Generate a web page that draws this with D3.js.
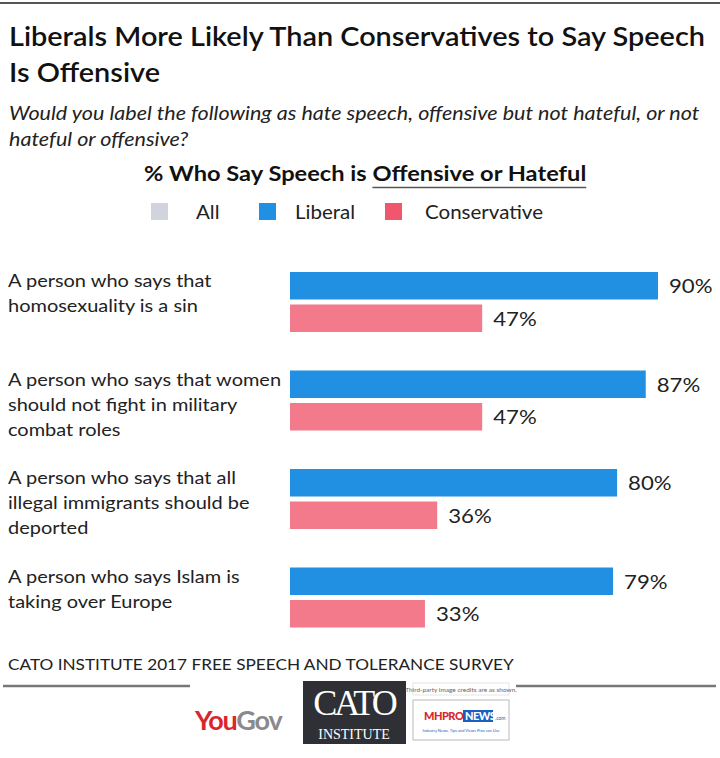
<!DOCTYPE html>
<html><head><meta charset="utf-8">
<script src="https://cdn.jsdelivr.net/npm/d3@7"></script>
<style>body{margin:0;background:#fff;} svg{display:block;font-family:Lato,"Open Sans",sans-serif;}</style>
</head><body>
<script>
const categories = [
  ["A person who says that", "homosexuality is a sin"],
  ["A person who says that women", "should not fight in military", "combat roles"],
  ["A person who says that all", "illegal immigrants should be", "deported"],
  ["A person who says Islam is", "taking over Europe"]
];
const liberal = [90, 87, 80, 79];
const conservative = [47, 47, 36, 33];
const legendItems = ["All", "Liberal", "Conservative"];

const W = 720, H = 758;
const SX = 1.11;
const svg = d3.select("body").append("svg").attr("width", W).attr("height", H);

function txt(parent, x, y, s, size, opts={}) {
  const t = parent.append("text").attr("transform", `translate(${x},${y}) scale(${opts.sx||SX},1)`)
    .attr("font-size", size).attr("fill", opts.fill||"#1a1a1a");
  if (opts.weight) t.attr("font-weight", opts.weight);
  if (opts.italic) t.attr("font-style", "italic");
  if (s !== null) t.text(s);
  return t;
}

svg.append("line").attr("x1",0).attr("x2",W).attr("y1",3).attr("y2",3).attr("stroke","#555").attr("stroke-width",2);

txt(svg, 9, 46, "Liberals More Likely Than Conservatives to Say Speech", 26, {weight:600, fill:"#111"});
txt(svg, 9, 82, "Is Offensive", 26, {weight:600, fill:"#111"});
txt(svg, 9, 120, "Would you label the following as hate speech, offensive but not hateful, or not", 19.4, {italic:true, fill:"#222"});
txt(svg, 9, 146, "hateful or offensive?", 19.4, {italic:true, fill:"#222"});

const sub = txt(svg, 144, 181, null, 21.3, {weight:700, fill:"#111"});
const ts1 = sub.append("tspan").text("% Who Say Speech is ");
const ts2 = sub.append("tspan").text("Offensive or Hateful");
const l1 = ts1.node().getComputedTextLength(), l2 = ts2.node().getComputedTextLength();
svg.append("line").attr("x1",144+l1*SX).attr("x2",144+(l1+l2)*SX).attr("y1",187.5).attr("y2",187.5).attr("stroke","#555").attr("stroke-width",1.5);

const colors = {All:"#d0d4dc", Liberal:"#2190e3", Conservative:"#f27a8a"};
const legendX = [151, 259, 385];
const legendTextOff = [45, 36, 40];
const leg = svg.append("g");
legendItems.forEach((k,i)=>{
  leg.append("rect").attr("x",legendX[i]).attr("y",203).attr("width",17).attr("height",17).attr("fill", k==="Conservative" ? "#f0566e" : colors[k]);
  txt(leg, legendX[i]+legendTextOff[i], 219, k, 18.5, {fill:"#222"});
});

const x = d3.scaleLinear().domain([0,90]).range([290,658]);
const y = d3.scaleBand().domain(d3.range(categories.length)).range([272,666]).paddingInner(0).paddingOuter(0);
const barH = 27.5, gap = 5;

const g = svg.append("g");
categories.forEach((lines,i)=>{
  const by = y(i);
  g.append("rect").attr("x",x(0)).attr("y",by).attr("width",x(liberal[i])-x(0)).attr("height",barH).attr("fill",colors.Liberal);
  g.append("rect").attr("x",x(0)).attr("y",by+barH+gap).attr("width",x(conservative[i])-x(0)).attr("height",barH).attr("fill",colors.Conservative);
  txt(g, x(liberal[i])+11, by+barH/2+7.5, liberal[i]+"%", 20, {fill:"#222"});
  txt(g, x(conservative[i])+11, by+barH+gap+barH/2+7.5, conservative[i]+"%", 20, {fill:"#222"});
  lines.forEach((t,j)=>{
    txt(g, 8, by+15+j*25, t, 18, {fill:"#222"});
  });
});

txt(svg, 8, 670, "CATO INSTITUTE 2017 FREE SPEECH AND TOLERANCE SURVEY", 15.5, {fill:"#222"});
svg.append("line").attr("x1",3).attr("x2",190).attr("y1",686).attr("y2",686).attr("stroke","#777").attr("stroke-width",2.5);
svg.append("line").attr("x1",516).attr("x2",716).attr("y1",686).attr("y2",686).attr("stroke","#777").attr("stroke-width",2.5);

// logos
const yg = svg.append("text").attr("x",195).attr("y",730).attr("font-size",27).attr("font-weight",700).attr("letter-spacing",-1.2);
yg.append("tspan").attr("fill","#d9262c").text("You");
yg.append("tspan").attr("fill","#8a8a8a").text("Gov");

svg.append("rect").attr("x",303).attr("y",681).attr("width",103).attr("height",63).attr("fill","#2e3035");
svg.append("text").attr("x",354).attr("y",715).attr("text-anchor","middle").attr("font-family","Liberation Serif, serif").attr("font-size",36).attr("fill","#fff").attr("letter-spacing",-3).text("CATO");
svg.append("text").attr("x",354).attr("y",739).attr("text-anchor","middle").attr("font-family","Liberation Serif, serif").attr("font-size",14).attr("fill","#fff").text("INSTITUTE");

svg.append("rect").attr("x",413).attr("y",683).attr("width",96).attr("height",12).attr("fill","#fff").attr("stroke","#ccc").attr("stroke-width",0.5);
svg.append("text").attr("x",461).attr("y",692).attr("text-anchor","middle").attr("font-size",6.5).attr("fill","#666").text("Third-party image credits are as shown.");
svg.append("rect").attr("x",413).attr("y",700).attr("width",96).attr("height",40).attr("fill","#fff").attr("stroke","#bbb").attr("stroke-width",1);
svg.append("text").attr("x",424).attr("y",720).attr("font-size",11).attr("font-weight",900).attr("fill","#d9262c").attr("letter-spacing",-0.5).text("MHPRO");
svg.append("rect").attr("x",463).attr("y",710).attr("width",30).attr("height",12).attr("fill","#1a5fc0");
svg.append("text").attr("x",465).attr("y",720).attr("font-size",11).attr("font-weight",900).attr("fill","#fff").attr("letter-spacing",-0.5).text("NEWS");
svg.append("text").attr("x",495).attr("y",720).attr("font-size",5).attr("fill","#1a5fc0").text(".com");
svg.append("text").attr("x",461).attr("y",732).attr("text-anchor","middle").attr("font-size",4).attr("fill","#1a5fc0").text("Industry News, Tips and Views Pros can Use");
</script>
</body></html>
